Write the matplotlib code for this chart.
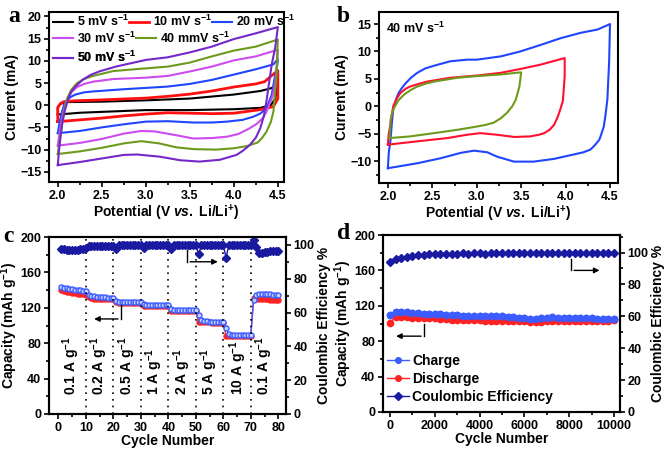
import numpy as np
import matplotlib
matplotlib.use('Agg')
import matplotlib.pyplot as plt
from matplotlib.ticker import MultipleLocator

plt.rcParams['font.family'] = ['Liberation Sans', 'DejaVu Sans']
plt.rcParams['font.weight'] = 'bold'
plt.rcParams['axes.labelweight'] = 'bold'
plt.rcParams['mathtext.fontset'] = 'custom'
plt.rcParams['mathtext.rm'] = 'Liberation Sans:bold'
plt.rcParams['mathtext.bf'] = 'Liberation Sans:bold'
plt.rcParams['mathtext.it'] = 'Liberation Sans:bold:italic'
plt.rcParams['axes.linewidth'] = 1.5

# ---- panel a: CV at different scan rates (upper and lower branches) ----
cv5_up_v = [2.0, 2.0, 2.03, 2.1, 2.5, 3.0, 3.5, 4.0, 4.3, 4.42, 4.5]
cv5_up_i = [-2.1, -0.5, 0.3, 0.7, 0.8, 1.1, 1.5, 2.4, 3.2, 3.8, 4.6]
cv5_dn_v = [4.5, 4.47, 4.42, 4.3, 4.0, 3.5, 3.0, 2.75, 2.5, 2.25, 2.0]
cv5_dn_i = [4.6, 1.5, 0.0, -0.6, -0.9, -1.1, -1.1, -1.3, -1.5, -1.7, -2.1]

cv10_up_v = [2.0, 2.0, 2.03, 2.07, 2.2, 2.5, 2.75, 3.0, 3.25, 3.5, 3.75, 4.0, 4.25, 4.35, 4.42, 4.5]
cv10_up_i = [-3.7, -0.5, 0.4, 0.8, 1.0, 1.2, 1.4, 1.6, 2.0, 2.5, 3.2, 4.1, 4.8, 5.3, 6.5, 7.8]
cv10_dn_v = [4.5, 4.5, 4.45, 4.3, 4.0, 3.75, 3.5, 3.25, 3.0, 2.75, 2.5, 2.25, 2.0]
cv10_dn_i = [7.8, 1.5, -0.3, -1.0, -1.8, -1.9, -1.8, -1.7, -2.0, -2.4, -2.9, -3.3, -3.7]

cv20_up_v = [2.0, 2.015, 2.03, 2.05, 2.07, 2.1, 2.15, 2.2, 2.3, 2.4, 2.75, 3.0, 3.25, 3.5, 3.75, 4.0, 4.25, 4.45, 4.5]
cv20_up_i = [-6.3, -4.5, -3.0, -1.3, 0.0, 1.0, 1.9, 2.4, 2.9, 3.1, 3.6, 3.9, 4.2, 4.8, 5.7, 6.9, 8.1, 9.2, 10.4]
cv20_dn_v = [4.5, 4.49, 4.47, 4.43, 4.37, 4.3, 4.22, 4.1, 3.92, 3.75, 3.54, 3.25, 3.0, 2.75, 2.5, 2.25, 2.0]
cv20_dn_i = [10.4, 8.5, 6.8, 2.3, -0.7, -1.9, -2.6, -3.3, -3.7, -3.9, -3.9, -3.6, -3.7, -4.3, -5.0, -5.8, -6.3]

cv30_up_v = [2.0, 2.02, 2.045, 2.07, 2.1, 2.15, 2.22, 2.3, 2.4, 2.63, 3.0, 3.25, 3.5, 3.75, 4.0, 4.25, 4.5]
cv30_up_i = [-9.1, -6.2, -3.3, -0.8, 1.0, 2.9, 4.1, 4.8, 5.3, 5.9, 6.2, 6.6, 7.6, 8.7, 10.1, 11.0, 12.5]
cv30_dn_v = [4.5, 4.49, 4.47, 4.44, 4.4, 4.37, 4.33, 4.26, 4.18, 4.05, 3.92, 3.75, 3.54, 3.3, 3.1, 2.95, 2.75, 2.5, 2.25, 2.0]
cv30_dn_i = [12.5, 9.0, 5.0, 2.0, 0.0, -1.5, -2.9, -4.2, -5.2, -6.5, -7.1, -7.4, -7.5, -6.6, -5.9, -5.8, -6.4, -7.6, -8.5, -9.1]

cv40_up_v = [2.0, 2.02, 2.045, 2.07, 2.1, 2.15, 2.22, 2.3, 2.4, 2.63, 3.0, 3.25, 3.5, 3.75, 4.0, 4.25, 4.5]
cv40_up_i = [-11.0, -8.0, -4.8, -1.5, 1.2, 3.4, 5.0, 5.9, 6.6, 7.7, 8.3, 8.7, 9.6, 11.0, 12.3, 13.2, 14.8]
cv40_dn_v = [4.5, 4.49, 4.48, 4.465, 4.45, 4.42, 4.37, 4.32, 4.27, 4.15, 4.0, 3.8, 3.55, 3.35, 3.15, 2.95, 2.75, 2.5, 2.25, 2.0]
cv40_dn_i = [14.8, 10.0, 5.3, 2.0, -1.4, -3.8, -6.0, -7.4, -8.4, -9.2, -9.7, -10.0, -9.9, -9.5, -8.6, -8.1, -8.6, -9.6, -10.4, -11.0]

cv50_up_v = [2.0, 2.01, 2.02, 2.035, 2.05, 2.08, 2.125, 2.16, 2.2, 2.28, 2.37, 2.47, 2.66, 2.84, 3.0, 3.25, 3.5, 3.75, 4.0, 4.25, 4.5]
cv50_up_i = [-13.5, -11.0, -9.0, -6.5, -4.1, -1.2, 1.9, 3.2, 4.2, 5.7, 6.8, 7.6, 8.7, 9.5, 10.2, 10.8, 11.9, 13.2, 14.9, 16.2, 17.6]
cv50_dn_v = [4.5, 4.47, 4.43, 4.4, 4.37, 4.34, 4.3, 4.25, 4.18, 4.1, 4.03, 3.84, 3.61, 3.39, 3.16, 2.9, 2.75, 2.5, 2.25, 2.0]
cv50_dn_i = [17.6, 13.0, 9.1, 5.0, 0.8, -2.5, -5.2, -7.3, -9.0, -10.3, -11.2, -12.3, -12.7, -12.4, -11.6, -11.1, -11.2, -12.0, -12.8, -13.5]

# ---- panel b: 40 mV/s with different cut-off potentials ----
b45_v = [2.0, 2.01, 2.03, 2.045, 2.06, 2.09, 2.12, 2.16, 2.2, 2.26, 2.33, 2.42, 2.52, 2.7, 2.89, 3.0, 3.27,
         3.49, 3.72, 3.94, 4.17, 4.36, 4.5,
         4.49, 4.47, 4.45, 4.43, 4.4, 4.38, 4.33, 4.28, 4.2, 4.09, 3.87, 3.64, 3.42, 3.23, 3.12, 2.97,
         2.82, 2.59, 2.33, 2.0]
b45_i = [-11.3, -8.5, -6.1, -3.0, -0.6, 1.2, 2.4, 3.4, 4.2, 5.2, 6.1, 6.9, 7.4, 8.2, 8.5, 8.5, 9.1,
         10.0, 11.2, 12.4, 13.4, 14.0, 15.0,
         8.0, 1.2, -1.5, -3.7, -5.2, -6.1, -7.1, -7.9, -8.4, -8.8, -9.6, -10.1, -10.1, -9.2, -8.4, -8.1,
         -8.5, -9.5, -10.4, -11.3]
b40_v = [2.0, 2.01, 2.03, 2.06, 2.1, 2.14, 2.2, 2.25, 2.35, 2.44, 2.7, 3.0, 3.27, 3.49, 3.72, 3.99,
         3.99, 3.97, 3.94, 3.91, 3.87, 3.82, 3.76, 3.7, 3.6, 3.42, 3.23, 3.04, 2.89, 2.67, 2.33, 2.0]
b40_i = [-7.0, -5.0, -3.1, 0.0, 1.4, 2.4, 3.2, 3.6, 4.1, 4.5, 5.2, 5.6, 6.1, 6.8, 7.6, 8.8,
         5.5, 1.0, -0.6, -2.0, -3.4, -4.3, -4.9, -5.2, -5.5, -5.6, -5.2, -4.9, -5.2, -5.8, -6.4, -7.0]
b35_v = [2.02, 2.03, 2.05, 2.08, 2.12, 2.18, 2.25, 2.33, 2.42, 2.52, 2.78, 3.0, 3.27, 3.5,
         3.49, 3.48, 3.44, 3.4, 3.34, 3.27, 3.19, 3.1, 3.0, 2.78, 2.52, 2.25, 2.02]
b35_i = [-5.8, -2.5, -1.0, 0.0, 1.1, 2.1, 2.9, 3.6, 4.1, 4.5, 5.2, 5.5, 5.8, 6.2,
         4.8, 3.6, 1.2, 0.0, -1.2, -2.2, -3.0, -3.4, -3.7, -4.3, -4.9, -5.5, -5.8]

# ---- panel c: rate capability ----
cycles_c = np.arange(1, 81)
charge_c = [143, 142.5, 142, 141.5, 141, 140.5, 140, 140, 139.5, 139,
            135, 133.5, 133, 132.5, 132.5, 132, 132, 131.5, 131.5, 131,
            128, 127, 127, 127, 127, 127, 127, 127, 127, 127,
            124, 123, 123, 123, 123, 123, 123, 123, 123, 123,
            119, 117.5, 117.5, 117.5, 117.5, 117.5, 117.5, 117.5, 117.5, 117.5,
            112, 106, 105, 105, 104.5, 104.5, 104.5, 104, 104, 104,
            97, 90, 89, 89, 89, 89, 89, 89, 89, 89,
            129, 135, 136, 136, 136, 135.5, 135.5, 135, 134.5, 134]
discharge_c = [140, 139, 138, 137.5, 137, 136.5, 136, 136, 135.5, 135,
               132, 131, 130.5, 130.5, 130, 130, 130, 129.5, 129.5, 129.5,
               126, 125.5, 125.5, 125.5, 125.5, 125.5, 125.5, 125.5, 125.5, 125.5,
               121.5, 121.5, 121.5, 121.5, 121.5, 121.5, 121.5, 121.5, 121.5, 121.5,
               116, 116, 116, 116, 116, 116, 116, 116, 116, 116,
               104, 103.5, 103.5, 103.5, 103.5, 103, 103, 103, 103, 103,
               88, 88, 88, 88, 88, 88, 88, 88, 88, 88,
               131, 130, 129.5, 129.5, 129.5, 129.5, 129, 129, 129, 129]
ce_c = [97.5, 97.4, 97.3, 97.2, 97.3, 97.2, 97.3, 97.5, 97.8, 98.2,
        99.2, 99.5, 99.6, 99.6, 99.6, 99.6, 99.6, 99.6, 99.6, 99.6,
        97.6, 99.7, 99.7, 99.7, 99.7, 99.7, 99.7, 99.7, 99.7, 99.7,
        98.0, 99.7, 99.7, 99.7, 99.7, 99.7, 99.7, 99.7, 99.7, 99.7,
        97.5, 99.8, 99.8, 99.8, 99.8, 99.8, 99.8, 99.8, 99.8, 99.8,
        94.5, 99.7, 99.7, 99.7, 99.7, 99.7, 99.7, 99.7, 99.7, 99.7,
        92.5, 99.8, 99.8, 99.8, 99.8, 99.8, 99.8, 99.8, 99.8, 99.8,
        103, 98.5, 95, 95.5, 95.8, 96, 96.2, 96.4, 96.5, 96.5]
rate_labels = ['0.1', '0.2', '0.5', '1', '2', '5', '10', '0.1']
rate_pos = [4.5, 15, 25, 35, 45, 55, 65.5, 75]

# ---- panel d: long cycling ----
cycles_d = np.arange(0, 10001, 250)
charge_d = [110, 113, 113, 112.5, 112, 111.5, 111, 111, 110.5, 110.5, 110, 109.5, 109.5, 109, 109, 109,
            109, 108.5, 108, 108, 108, 107.5, 107, 106.5, 106, 105.5, 105.5, 106, 106.5, 107, 106.5,
            106.5, 106.5, 106, 106, 106, 106, 105.5, 105.5, 105, 105]
discharge_d = [101, 107, 107.5, 107, 106.5, 106.5, 106.5, 106, 106, 105.5, 105, 104.5, 104.5, 104.5, 104, 104,
               103.5, 103, 103, 103, 103, 103, 103, 102.5, 102.5, 102, 101.5, 102, 102.5, 103, 103,
               103, 103, 103, 103, 103, 103, 103, 103, 103, 103.5]
ce_d = [94, 95.8, 96.8, 97.5, 98, 98.4, 98.7, 99, 99.1, 99.2, 99.2, 99.3, 99.3, 99.4, 99.3, 99.4,
        99.4, 99.3, 99.4, 99.4, 99.4, 99.4, 99.5, 99.4, 99.4, 99.5, 99.4, 99.5, 99.5, 99.4, 99.5,
        99.5, 99.5, 99.5, 99.5, 99.5, 99.5, 99.5, 99.5, 99.5, 99.5]

W, H = 668, 449
fig = plt.figure(figsize=(W / 100, H / 100), dpi=100)


def box(l, r, t, b):
    return [l / W, (H - b) / H, (r - l) / W, (b - t) / H]


def style(ax):
    ax.tick_params(which='both', direction='out', width=1.2, labelsize=9, pad=2)
    ax.tick_params(which='major', length=3.5)
    ax.tick_params(which='minor', length=2)


xlab_font = 10
ylab_font = 10
C_CH = '#3c5cff'
C_DIS = '#ff2222'
C_CE = '#1a1aa0'

# ===== a =====
ax = fig.add_axes(box(49, 284, 12, 182))
l5, = ax.plot(cv5_up_v + cv5_dn_v, cv5_up_i + cv5_dn_i, color='black', lw=1.5)
l10, = ax.plot(cv10_up_v + cv10_dn_v, cv10_up_i + cv10_dn_i, color='#ff1010', lw=2.0)
l20, = ax.plot(cv20_up_v + cv20_dn_v, cv20_up_i + cv20_dn_i, color='#1f45ff', lw=1.5)
l30, = ax.plot(cv30_up_v + cv30_dn_v, cv30_up_i + cv30_dn_i, color='#cc4cf0', lw=1.5)
l40, = ax.plot(cv40_up_v + cv40_dn_v, cv40_up_i + cv40_dn_i, color='#6e9a1c', lw=1.5)
l50, = ax.plot(cv50_up_v + cv50_dn_v, cv50_up_i + cv50_dn_i, color='#7428cc', lw=1.5)
rows = [([l5, l10, l20], ['5 mV s$^{-1}$', '10 mV s$^{-1}$', '20 mV s$^{-1}$'], 0.945),
        ([l30, l40], ['30 mV s$^{-1}$', '40 mmV s$^{-1}$'], 0.847),
        ([l50], ['50 mV s$^{-1}$'], 0.733)]
for hs, ls, yy in rows:
    leg = ax.legend(hs, ls, ncol=len(hs), loc='center left', bbox_to_anchor=(0.017, yy), frameon=False,
                    fontsize=9, handlelength=1.6, handletextpad=0.3, columnspacing=0.0,
                    borderaxespad=0, borderpad=0)
    ax.add_artist(leg)
ax.set_xlim(1.9, 4.57)
ax.set_ylim(-17.3, 21)
ax.xaxis.set_major_locator(MultipleLocator(0.5))
ax.xaxis.set_minor_locator(MultipleLocator(0.25))
ax.set_yticks([-15, -10, -5, 0, 5, 10, 15, 20])
ax.yaxis.set_minor_locator(MultipleLocator(2.5))
style(ax)
ax.set_xlabel('Potential (V $\\mathit{vs.}$ Li/Li$^{+}$)', fontsize=xlab_font, labelpad=1)
ax.set_ylabel('Current (mA)', fontsize=ylab_font, labelpad=1)
fig.text(8 / W, 1 - 17 / H, 'a', family='Liberation Serif', fontsize=17, weight='bold', va='center')

# ===== b =====
ax = fig.add_axes(box(379, 618, 12, 183))
ax.plot(b45_v, b45_i, color='#1f45ff', lw=1.5)
ax.plot(b40_v, b40_i, color='#ff1030', lw=1.5)
ax.plot(b35_v, b35_i, color='#6e9a1c', lw=1.5)
ax.set_xlim(1.9, 4.59)
ax.set_ylim(-14, 17.2)
ax.xaxis.set_major_locator(MultipleLocator(0.5))
ax.xaxis.set_minor_locator(MultipleLocator(0.25))
ax.set_yticks([-10, -5, 0, 5, 10, 15])
ax.yaxis.set_minor_locator(MultipleLocator(2.5))
style(ax)
ax.text(0.03, 0.95, '40 mV s$^{-1}$', transform=ax.transAxes, fontsize=9, va='top', ha='left')
ax.set_xlabel('Potential (V $\\mathit{vs.}$ Li/Li$^{+}$)', fontsize=xlab_font, labelpad=1)
ax.set_ylabel('Current (mA)', fontsize=ylab_font, labelpad=1)
fig.text(337 / W, 1 - 17 / H, 'b', family='Liberation Serif', fontsize=17, weight='bold', va='center')

# ===== c =====
ax = fig.add_axes(box(49, 286, 237, 414))
ax2 = ax.twinx()
ax.plot(cycles_c, discharge_c, color=C_DIS, lw=1.0, marker='o', ms=3.6, mfc=C_DIS, mec=C_DIS, mew=1.0)
ax.plot(cycles_c, charge_c, color=C_CH, lw=1.0, marker='o', ms=3.6, mfc='#c8d2ff', mec=C_CH, mew=1.0)
ax2.plot(cycles_c, ce_c, color=C_CE, lw=1.0, marker='D', ms=4.2, mfc=C_CE, mec=C_CE)
for xv in [10, 20, 30, 40, 50, 60, 70]:
    ax.axvline(xv, color='black', ls=(0, (1, 3)), lw=1.2)
for xp, lab in zip(rate_pos, rate_labels):
    ax.text(xp, 22, lab + ' A g$^{-1}$', rotation=90, ha='center', va='bottom', fontsize=10)
ax.annotate('', xy=(12.0, 107.4), xytext=(22.7, 107.4),
            arrowprops=dict(arrowstyle='-|>', color='black', lw=1.0, mutation_scale=8))
ax.plot([22.7, 22.7], [107.4, 123.6], color='black', lw=1.0)
ax.annotate('', xy=(59.0, 172), xytext=(46.9, 172),
            arrowprops=dict(arrowstyle='-|>', color='black', lw=1.0, mutation_scale=8))
ax.plot([46.9, 46.9], [172, 185], color='black', lw=1.0)
ax.set_xlim(-3.4, 82.8)
ax.set_ylim(0, 200)
ax2.set_ylim(0, 104.7)
ax.xaxis.set_major_locator(MultipleLocator(10))
ax.xaxis.set_minor_locator(MultipleLocator(5))
ax.yaxis.set_major_locator(MultipleLocator(40))
ax.yaxis.set_minor_locator(MultipleLocator(20))
ax2.yaxis.set_major_locator(MultipleLocator(20))
ax2.yaxis.set_minor_locator(MultipleLocator(10))
style(ax)
style(ax2)
ax.set_xlabel('Cycle Number', fontsize=xlab_font, labelpad=0)
ax.set_ylabel('Capacity (mAh g$^{-1}$)', fontsize=ylab_font, labelpad=0)
ax2.set_ylabel('Coulombic Efficiency %', fontsize=ylab_font, labelpad=2)
fig.text(3 / W, 1 - 236 / H, 'c', family='Liberation Serif', fontsize=17, weight='bold', va='center')

# ===== d =====
ax = fig.add_axes(box(383, 620, 235, 412))
ax2 = ax.twinx()
lc, = ax.plot(cycles_d, charge_d, color=C_CH, lw=1.0, marker='o', ms=4.5, mfc=C_CH, mec=C_CH)
ld, = ax.plot(cycles_d, discharge_d, color=C_DIS, lw=1.0, marker='o', ms=4.5, mfc=C_DIS, mec=C_DIS)
lce, = ax2.plot(cycles_d, ce_d, color=C_CE, lw=1.0, marker='D', ms=4.5, mfc=C_CE, mec=C_CE)
ax.plot(cycles_d, charge_d, color=C_CH, lw=0, marker='o', ms=4.5, mfc=C_CH, mec=C_CH, zorder=3)
ax.annotate('', xy=(150, 85.7), xytext=(1518, 85.7),
            arrowprops=dict(arrowstyle='-|>', color='black', lw=1.0, mutation_scale=8))
ax.plot([1518, 1518], [85.7, 99], color='black', lw=1.0)
ax.annotate('', xy=(9480, 160), xytext=(8095, 160),
            arrowprops=dict(arrowstyle='-|>', color='black', lw=1.0, mutation_scale=8))
ax.plot([8095, 8095], [160, 172.5], color='black', lw=1.0)
ax.legend([lc, ld, lce], ['Charge', 'Discharge', 'Coulombic Efficiency'], loc='lower left',
          bbox_to_anchor=(-0.035, -0.025), frameon=False, fontsize=10, handlelength=1.6,
          handletextpad=0.2, labelspacing=0.28, markerscale=0.9)
ax.set_xlim(-310, 10270)
ax.set_ylim(0, 200)
ax2.set_ylim(0, 111)
ax.xaxis.set_major_locator(MultipleLocator(2000))
ax.xaxis.set_minor_locator(MultipleLocator(1000))
ax.yaxis.set_major_locator(MultipleLocator(40))
ax.yaxis.set_minor_locator(MultipleLocator(20))
ax2.yaxis.set_major_locator(MultipleLocator(20))
ax2.yaxis.set_minor_locator(MultipleLocator(10))
style(ax)
style(ax2)
ax.set_xlabel('Cycle Number', fontsize=xlab_font, labelpad=0)
ax.set_ylabel('Capacity (mAh g$^{-1}$)', fontsize=ylab_font, labelpad=0)
ax2.set_ylabel('Coulombic Efficiency %', fontsize=ylab_font, labelpad=2)
fig.text(337 / W, 1 - 234 / H, 'd', family='Liberation Serif', fontsize=17, weight='bold', va='center')

fig.savefig('out.png', dpi=100)
